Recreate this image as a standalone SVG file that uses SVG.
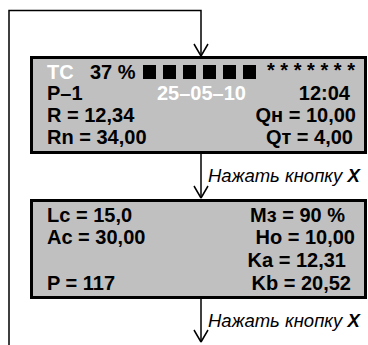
<svg xmlns="http://www.w3.org/2000/svg" width="368" height="345" viewBox="0 0 368 345">
<style>
.box{fill:#c0c0c0;stroke:#000;stroke-width:3}
.t{font-family:"Liberation Sans",Arial,sans-serif;font-weight:bold;font-size:20px;fill:#000}
.w{fill:#fff}
.r{text-anchor:end}
.lbl{font-family:"Liberation Sans",Arial,sans-serif;font-style:italic;font-size:18.5px;fill:#000}
.line{fill:none;stroke:#000;stroke-width:1.5}
.sq{fill:#000}
</style>
<g id="connectors">
<path class="line" d="M9,345 V10.5 H201 V56"/>
<path class="line" d="M201,56 L194,44 M201,56 L208,44"/>
<path class="line" d="M201,154 V198"/>
<path class="line" d="M201,198 L194,186 M201,198 L208,186"/>
<path class="line" d="M201,299 V342"/>
<path class="line" d="M201,342 L194,330 M201,342 L208,330"/>
<text class="lbl" x="208" y="182">Нажать кнопку <tspan font-weight="bold">X</tspan></text>
<text class="lbl" x="208" y="327">Нажать кнопку <tspan font-weight="bold">X</tspan></text>
</g>
<g id="screen1">
<rect class="box" x="31.5" y="57.5" width="334" height="95"/>
<text class="t w" x="47" y="79">TC</text>
<text class="t" x="90" y="79">37 %</text>
<rect class="sq" x="143" y="65" width="13" height="14"/>
<rect class="sq" x="163" y="65" width="13" height="14"/>
<rect class="sq" x="183" y="65" width="13" height="14"/>
<rect class="sq" x="203" y="65" width="13" height="14"/>
<rect class="sq" x="223" y="65" width="13" height="14"/>
<rect class="sq" x="243" y="65" width="13" height="14"/>
<text class="t" x="267" y="77" font-size="15" textLength="88" lengthAdjust="spacing">* * * * * * *</text>
<text class="t" x="47" y="100">P–1</text>
<text class="t w" x="157" y="100">25–05–10</text>
<text class="t r" x="350" y="100">12:04</text>
<text class="t" x="47" y="122">R = 12,34</text>
<text class="t r" x="356" y="122">Qн = 10,00</text>
<text class="t" x="47" y="144">Rn = 34,00</text>
<text class="t r" x="353" y="144">Qт = 4,00</text>
</g>
<g id="screen2">
<rect class="box" x="31.5" y="200.5" width="334" height="97"/>
<text class="t" x="47" y="222">Lc = 15,0</text>
<text class="t r" x="345" y="222">Мз = 90 %</text>
<text class="t" x="47" y="244">Ac = 30,00</text>
<text class="t r" x="355" y="244">Ho = 10,00</text>
<text class="t r" x="346" y="267">Ka = 12,31</text>
<text class="t" x="47" y="290">P = 117</text>
<text class="t r" x="351" y="290">Kb = 20,52</text>
</g>
</svg>
